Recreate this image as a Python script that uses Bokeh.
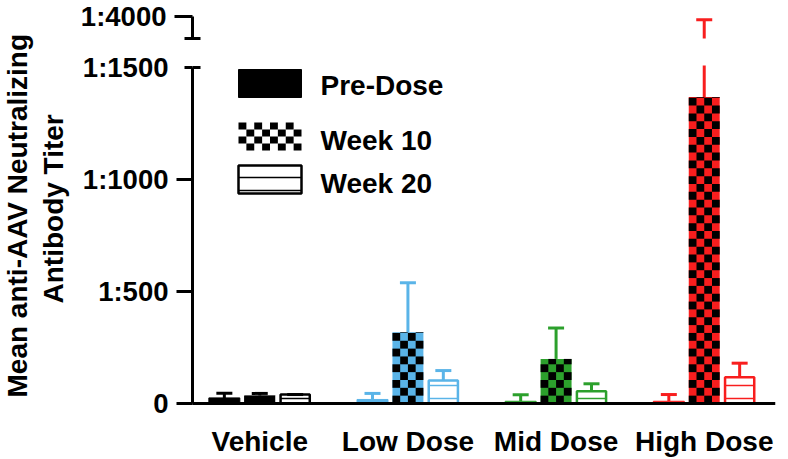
import numpy as np
from bokeh.plotting import figure
from bokeh.models import Range1d, FixedTicker, ColumnDataSource, Label, Span
from bokeh.core.properties import value
from bokeh.layouts import column, row
from bokeh.embed import file_html
from bokeh.resources import INLINE

# ---------------- data ----------------
groups = ["Vehicle", "Low Dose", "Mid Dose", "High Dose"]
series = ["Pre-Dose", "Week 10", "Week 20"]
pre_dose = [25, 18, 10, 10]
pre_dose_err = [46, 45, 39, 40]
week10 = [36, 318, 199, 1368]
week10_err = [45, 539, 337, 3850]
week20 = [40, 103, 55, 117]
week20_err = [40, 147, 88, 180]
y_ticks = [0, 500, 1000, 1500]
y_tick_labels = ["0", "1:500", "1:1000", "1:1500"]
y_break_ticks = [4000]
y_break_labels = ["1:4000"]
y_title = ["Mean anti-AAV Neutralizing", "Antibody Titer"]
group_colors = ["#000000", "#5AB4E8", "#2CA02C", "#F81E1E"]

FONT = "Liberation Sans"
LOW_MAX = 1500
HIGH_MIN, HIGH_MAX = 3000, 4000

# ---------------- layout constants (pixels) ----------------
W, H = 788, 459
TITLE_W = 74
FRAME_L, FRAME_R = 192, 775          # plot frame, page x
LOW_TOP, ZERO_Y = 67, 403            # 1:1500 and 0 lines, page y
TOP_PAD = 2                          # frame margin above the 1:1500 line
TOP_FIG_H = 40
MAIN_W = W - TITLE_W

xc = np.arange(1, len(groups) + 1)
offsets = [-0.239, 0.0, 0.239]
bar_w = 0.209
X_LO, X_HI = 0.546, 4.481
x_range = Range1d(X_LO, X_HI)
units_per_px = LOW_MAX / (ZERO_Y - LOW_TOP)
y_lo = -(H - ZERO_Y) * units_per_px
y_hi = LOW_MAX + TOP_PAD * units_per_px

def px_x(px):
    return X_LO + (px - FRAME_L) / (FRAME_R - FRAME_L) * (X_HI - X_LO)

def px_y(py):
    return (ZERO_Y - py) * units_per_px

def make_src(vals, errs, off):
    return ColumnDataSource(dict(x=xc + off, top=vals, err=errs, color=group_colors))

src_pre = make_src(pre_dose, pre_dose_err, offsets[0])
src_w10 = make_src(week10, week10_err, offsets[1])
src_w20 = make_src(week20, week20_err, offsets[2])

def style_common(p):
    p.grid.visible = False
    p.outline_line_color = None
    p.background_fill_color = "white"
    p.border_fill_color = "white"

def draw_errors(p, src):
    p.segment(x0="x", y0="top", x1="x", y1="err", source=src, line_color="color", line_width=3)
    p.scatter(x="x", y="err", source=src, marker="dash", size=16, line_color="color", line_width=3)

# checkerboard cells (black squares) for a set of bars
CELL_H = 35.0      # data units (~7.8 px)
N_COLS = 4
def checker_cells(xcent, tops, width):
    L, R, B, T = [], [], [], []
    cw = width / N_COLS
    for xm, tv in zip(xcent, tops):
        nrows = int(np.ceil(tv / CELL_H))
        for r in range(nrows):
            b = r * CELL_H
            t = min((r + 1) * CELL_H, tv)
            for c in range(N_COLS):
                if (r + c) % 2 == 0:
                    l = xm - width / 2 + c * cw
                    L.append(l); R.append(l + cw); B.append(b); T.append(t)
    return dict(left=L, right=R, bottom=B, top=T)

def style_axis(ax):
    ax.axis_line_width = 3
    ax.axis_line_color = "black"
    ax.major_tick_line_width = 3
    ax.major_tick_line_color = "black"
    ax.minor_tick_line_width = 3
    ax.minor_tick_line_color = "black"
    ax.major_label_standoff = 8
    ax.major_label_text_font = FONT
    ax.major_label_text_font_style = "bold"
    ax.major_label_text_font_size = "27.5px"
    ax.major_label_text_color = "black"

# ---------------- y-axis title panel ----------------
tf = figure(width=TITLE_W, height=H, x_range=Range1d(0, 1), y_range=Range1d(0, 1),
            output_backend="svg", toolbar_location=None, x_axis_location=None, y_axis_location=None,
            min_border_left=0, min_border_right=0, min_border_top=0, min_border_bottom=0)
style_common(tf)
for txt, sx, sy in zip(y_title, [17, 53], [H - 397, H - 303]):
    tf.add_layout(Label(x=sx, y=sy, x_units="screen", y_units="screen", text=txt,
                        angle=90, angle_units="deg", text_align="left", text_baseline="middle",
                        text_font=FONT, text_font_style="bold", text_font_size="28px",
                        text_color="black"))

# ---------------- upper (broken) segment ----------------
top = figure(width=MAIN_W, height=TOP_FIG_H, x_range=x_range, y_range=Range1d(HIGH_MIN, HIGH_MAX),
             output_backend="svg", toolbar_location=None, x_axis_location=None,
             min_border_left=FRAME_L - TITLE_W, min_border_right=W - FRAME_R,
             min_border_top=16, min_border_bottom=2)
style_common(top)
draw_errors(top, src_pre)
draw_errors(top, src_w10)
draw_errors(top, src_w20)
ya = top.yaxis[0]
ya.ticker = FixedTicker(ticks=y_break_ticks, minor_ticks=[HIGH_MIN])
ya.major_label_overrides = {t: l for t, l in zip(y_break_ticks, y_break_labels)}
ya.bounds = (HIGH_MIN, HIGH_MAX)
style_axis(ya)
ya.major_tick_in, ya.major_tick_out = 0, 18
ya.minor_tick_in, ya.minor_tick_out = 8, 8

# ---------------- lower segment ----------------
p = figure(width=MAIN_W, height=H - TOP_FIG_H, x_range=x_range, y_range=Range1d(y_lo, y_hi),
           output_backend="svg", toolbar_location=None, x_axis_location=None,
           min_border_left=FRAME_L - TITLE_W, min_border_right=W - FRAME_R,
           min_border_top=LOW_TOP - TOP_PAD - TOP_FIG_H, min_border_bottom=0)
style_common(p)
p.vbar(x="x", top="top", width=bar_w, source=src_pre, fill_color="color", line_color="color", line_width=1)
p.vbar(x="x", top="top", width=bar_w, source=src_w10, fill_color="color", line_color=None)
p.quad(source=ColumnDataSource(checker_cells(xc + offsets[1], week10, bar_w)),
       left="left", right="right", bottom="bottom", top="top", fill_color="black", line_color=None)
p.vbar(x="x", top="top", width=bar_w - 0.012, source=src_w20, fill_color="white", line_color="color",
       line_width=2.5, hatch_pattern="horizontal_line", hatch_color="color", hatch_weight=1.5, hatch_scale=13)
draw_errors(p, src_pre)
draw_errors(p, src_w10)
draw_errors(p, src_w20)

yb = p.yaxis[0]
yb.ticker = FixedTicker(ticks=y_ticks, minor_ticks=y_ticks[:-1])
yb.major_label_overrides = {t: l for t, l in zip(y_ticks, y_tick_labels)}
yb.bounds = (0, LOW_MAX)
style_axis(yb)
yb.major_tick_in, yb.major_tick_out = 0, 8
yb.minor_tick_in, yb.minor_tick_out = 0, 16
# inner half of the axis-break tick at 1:1500
p.scatter(x=[X_LO], y=[LOW_MAX], marker="dash", size=16, line_color="black", line_width=3)

# x axis baseline and group labels
p.add_layout(Span(location=0, dimension="width", line_color="black", line_width=3))
p.text(x=xc, y=0, text=groups, text_align="center", text_baseline="top", y_offset=22,
       text_font=value(FONT), text_font_style="bold", text_font_size="28px", text_color="black")

# ---------------- legend (drawn in the plot) ----------------
LEG_L, LEG_R = 238, 301
leg_boxes = [(69, 97), (122, 150), (165, 193)]
leg_text_y = [84.5, 140, 183]
LEG_TEXT_X = 320

(t0, b0), (t1, b1), (t2, b2) = leg_boxes
p.quad(left=px_x(LEG_L), right=px_x(LEG_R), top=px_y(t0), bottom=px_y(b0),
       fill_color="black", line_color="black")
p.quad(left=px_x(LEG_L), right=px_x(LEG_R), top=px_y(t1), bottom=px_y(b1),
       fill_color="white", line_color=None)
# 8 x 4 checker in the Week 10 legend box
ncol, nrow = 8, 4
cw = (LEG_R - LEG_L) / ncol
ch = (b1 - t1) / nrow
cells = dict(left=[], right=[], top=[], bottom=[])
for r in range(nrow):
    for c in range(ncol):
        if (r + c) % 2 == 0:
            cells["left"].append(px_x(LEG_L + c * cw))
            cells["right"].append(px_x(LEG_L + (c + 1) * cw))
            cells["top"].append(px_y(t1 + r * ch))
            cells["bottom"].append(px_y(t1 + (r + 1) * ch))
p.quad(source=ColumnDataSource(cells), left="left", right="right", top="top", bottom="bottom",
       fill_color="black", line_color=None)
p.quad(left=px_x(LEG_L), right=px_x(LEG_R), top=px_y(t2), bottom=px_y(b2),
       fill_color="white", line_color="black", line_width=2.5,
       hatch_pattern="horizontal_line", hatch_color="black", hatch_weight=1.5, hatch_scale=13)
p.text(x=[px_x(LEG_TEXT_X)] * 3, y=[px_y(v) for v in leg_text_y], text=series,
       text_align="left", text_baseline="middle",
       text_font=value(FONT), text_font_style="bold", text_font_size="28px", text_color="black")

layout = row(tf, column(top, p, spacing=0), spacing=0)
open("out.html", "w").write(file_html(layout, INLINE))
